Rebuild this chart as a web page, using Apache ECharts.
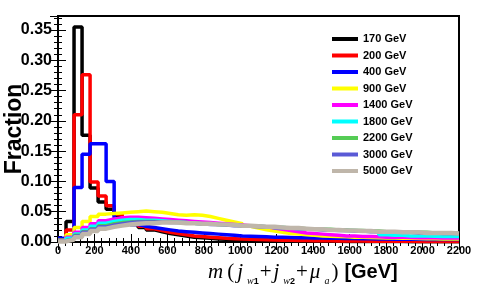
<!DOCTYPE html>
<html><head><meta charset="utf-8">
<script src="https://cdn.jsdelivr.net/npm/echarts@6/dist/echarts.min.js"></script>
<style>html,body{margin:0;padding:0;background:#fff}#c{width:477px;height:307px}</style>
</head><body><div id="c"></div>
<script>
const BIN_WIDTH = 44; // GeV per bin, 50 bins from 0 to 2200
const X_MIN = 0, X_MAX = 2200, X_STEP = 200;
const Y_MIN = 0, Y_MAX = 0.373, Y_STEP = 0.05;

const seriesNames = ['170 GeV','200 GeV','400 GeV','900 GeV','1400 GeV','1800 GeV','2200 GeV','3000 GeV','5000 GeV'];
const seriesColors = ['#000000','#ff0000','#0000ff','#ffff00','#ff00ff','#00ffff','#55cc55','#5a5ad6','#bfb6aa'];

const m170 = [0.005,0.034,0.355,0.176,0.089,0.066,0.054,0.043,0.035,0.029,
              0.024,0.020,0.017,0.014,0.012,0.010,0.008,0.007,0.006,0.005,
              0.0045,0.004,0.0035,0.003,0.0028,0.0025,0.0022,0.002,0.0018,0.0016,
              0.0015,0.0014,0.0013,0.0012,0.0011,0.001,0.001,0.0009,0.0009,0.0008,
              0.0008,0.0007,0.0007,0.0006,0.0006,0.0006,0.0005,0.0005,0.0005,0.0005];
const m200 = [0.004,0.020,0.210,0.276,0.099,0.076,0.060,0.046,0.037,0.031,
              0.026,0.022,0.019,0.016,0.014,0.012,0.010,0.009,0.008,0.007,
              0.006,0.0055,0.005,0.0045,0.004,0.0037,0.0034,0.003,0.0028,0.0026,
              0.0024,0.0022,0.002,0.0019,0.0018,0.0017,0.0016,0.0015,0.0014,0.0013,
              0.0012,0.0012,0.0011,0.0011,0.001,0.001,0.001,0.0009,0.0009,0.0009];
const m400 = [0.006,0.010,0.090,0.145,0.162,0.162,0.100,0.038,0.033,0.029,
              0.026,0.024,0.022,0.020,0.018,0.017,0.016,0.015,0.014,0.013,
              0.012,0.011,0.010,0.0095,0.009,0.0085,0.008,0.0078,0.0075,0.0072,
              0.007,0.0068,0.0065,0.0062,0.006,0.0058,0.0056,0.0054,0.0052,0.005,
              0.0048,0.0047,0.0046,0.0045,0.0044,0.0043,0.0042,0.0041,0.004,0.004];
const m900 = [0.003,0.012,0.024,0.034,0.042,0.046,0.047,0.048,0.049,0.050,
              0.051,0.050,0.049,0.047,0.045,0.044,0.045,0.044,0.042,0.039,
              0.036,0.033,0.030,0.026,0.023,0.020,0.018,0.016,0.014,0.013,
              0.012,0.011,0.010,0.0095,0.009,0.0085,0.008,0.0078,0.0075,0.007,
              0.0068,0.0065,0.006,0.006,0.0058,0.0055,0.0052,0.005,0.005,0.0048];
const m1400 = [0.002,0.008,0.016,0.024,0.030,0.035,0.038,0.040,0.041,0.041,
               0.040,0.039,0.038,0.037,0.036,0.035,0.034,0.033,0.032,0.031,
               0.030,0.029,0.028,0.027,0.026,0.025,0.023,0.021,0.019,0.017,
               0.015,0.014,0.013,0.012,0.011,0.010,0.010,0.009,0.009,0.0085,
               0.008,0.008,0.0078,0.0075,0.0072,0.007,0.007,0.0068,0.0065,0.0065];
const m1800 = [0.002,0.006,0.013,0.020,0.026,0.031,0.034,0.036,0.037,0.037,
               0.036,0.036,0.035,0.034,0.033,0.032,0.031,0.030,0.030,0.029,
               0.028,0.028,0.027,0.026,0.026,0.025,0.024,0.024,0.023,0.022,
               0.022,0.021,0.021,0.020,0.020,0.019,0.019,0.018,0.018,0.017,
               0.012,0.011,0.011,0.010,0.010,0.010,0.0095,0.009,0.009,0.009];
const m2200 = [0.002,0.005,0.011,0.017,0.022,0.027,0.030,0.032,0.033,0.034,
               0.034,0.034,0.033,0.033,0.032,0.032,0.031,0.030,0.030,0.029,
               0.028,0.028,0.027,0.026,0.026,0.025,0.024,0.024,0.023,0.023,
               0.022,0.022,0.021,0.021,0.020,0.020,0.019,0.019,0.018,0.018,
               0.017,0.017,0.017,0.016,0.016,0.016,0.015,0.015,0.015,0.014];
const m3000 = [0.002,0.005,0.010,0.016,0.021,0.025,0.028,0.030,0.032,0.033,
               0.033,0.033,0.033,0.032,0.032,0.031,0.031,0.030,0.029,0.029,
               0.028,0.027,0.027,0.026,0.025,0.025,0.024,0.023,0.023,0.022,
               0.021,0.021,0.020,0.020,0.019,0.019,0.018,0.018,0.017,0.017,
               0.017,0.016,0.016,0.016,0.015,0.015,0.015,0.014,0.014,0.014];
const m5000 = [0.001,0.004,0.008,0.013,0.018,0.022,0.025,0.027,0.029,0.030,
               0.031,0.031,0.032,0.032,0.032,0.031,0.031,0.030,0.030,0.029,
               0.029,0.028,0.027,0.027,0.026,0.025,0.025,0.024,0.023,0.023,
               0.022,0.021,0.021,0.020,0.020,0.019,0.019,0.018,0.018,0.017,
               0.017,0.017,0.016,0.016,0.016,0.015,0.015,0.015,0.015,0.014];

const seriesValues = [m170,m200,m400,m900,m1400,m1800,m2200,m3000,m5000];

function toSteps(vals){
  const pts = vals.map((v,i)=>[i*BIN_WIDTH, v]);
  pts.push([vals.length*BIN_WIDTH, vals[vals.length-1]]);
  return pts;
}

const chart = echarts.init(document.getElementById('c'), null, {renderer:'canvas'});
const SANS = 'Liberation Sans, Arial, Helvetica, sans-serif';
const SERIF = 'Liberation Serif, Times New Roman, serif';

const tickCommon = {
  axisLine:{show:true, lineStyle:{color:'#000', width:2}},
  axisTick:{show:true, inside:true, length:8, lineStyle:{color:'#000', width:1}},
  minorTick:{show:true, splitNumber:5, length:4, lineStyle:{color:'#000', width:1}},
  splitLine:{show:false}
};

const series = seriesValues.map((vals, k) => ({
  name: seriesNames[k],
  type: 'line',
  step: 'end',
  symbol: 'none',
  color: seriesColors[k],
  lineStyle: {color: seriesColors[k], width: k === 8 ? 4.5 : 3.5},
  data: toSteps(vals),
  z: 2 + k,
  xAxisIndex: 0, yAxisIndex: 0
}));

chart.setOption({
  animation: false,
  backgroundColor: '#fff',
  grid: {left: 58, right: 18, top: 16, bottom: 65, show: true, borderColor: '#000', borderWidth: 2,
         containLabel: false, outerBoundsMode: 'none'},
  legend: {
    orient: 'vertical', left: 327, top: 27,
    icon: 'rect', itemWidth: 26, itemHeight: 4, itemGap: 2.5,
    data: seriesNames,
    textStyle: {fontFamily: SANS, fontWeight: 'bold', fontSize: 11, color: '#000', lineHeight: 14}
  },
  xAxis: [
    Object.assign({type:'value', min:X_MIN, max:X_MAX, interval:X_STEP, position:'bottom',
      axisLabel:{show:true, color:'#000', fontFamily:SANS, fontWeight:'bold', fontSize:11, margin:3,
        formatter: v => String(v)}}, tickCommon),
    Object.assign({type:'value', min:X_MIN, max:X_MAX, interval:X_STEP, position:'top',
      axisLabel:{show:false}}, tickCommon)
  ],
  yAxis: [
    Object.assign({type:'value', min:Y_MIN, max:Y_MAX, interval:Y_STEP, position:'left',
      axisLabel:{show:true, color:'#000', fontFamily:SANS, fontWeight:'bold', fontSize:16, margin:6,
        showMaxLabel:false, formatter: v => v.toFixed(2)}}, tickCommon),
    Object.assign({type:'value', min:Y_MIN, max:Y_MAX, interval:Y_STEP, position:'right',
      axisLabel:{show:false}}, tickCommon)
  ],
  graphic: [{
    type:'text', x: 15, y: 129, rotation: Math.PI/2, z: 100,
    style: {text:'Fraction', fill:'#000', font:'bold 23px ' + SANS, align:'center', verticalAlign:'middle'}
  },{
    type:'text', left: 207, top: 262, z: 100,
    style: {
      text: '{i|m}{p|(}{i|j}{s|w}{d|1}{o|+}{i|j}{s|w}{d|2}{o|+}{i|μ}{s|a}{p|)}{b|[GeV]}',
      fill:'#000',
      rich: {
        i:{fontFamily:SERIF, fontStyle:'italic', fontSize:21, lineHeight:28, verticalAlign:'middle', padding:[0,2,0,1]},
        p:{fontFamily:SERIF, fontSize:21, lineHeight:28, verticalAlign:'middle', padding:[0,2,0,2]},
        o:{fontFamily:SERIF, fontSize:21, lineHeight:28, verticalAlign:'middle', padding:[0,1,0,1]},
        s:{fontFamily:SERIF, fontStyle:'italic', fontSize:10, lineHeight:10, verticalAlign:'bottom', padding:[0,0,0,2]},
        d:{fontFamily:SANS, fontWeight:'bold', fontSize:9, lineHeight:10, verticalAlign:'bottom'},
        b:{fontFamily:SANS, fontWeight:'bold', fontSize:20, lineHeight:28, verticalAlign:'middle', padding:[0,0,0,4]}
      }
    }
  }],
  series: series
});
</script>
</body></html>
